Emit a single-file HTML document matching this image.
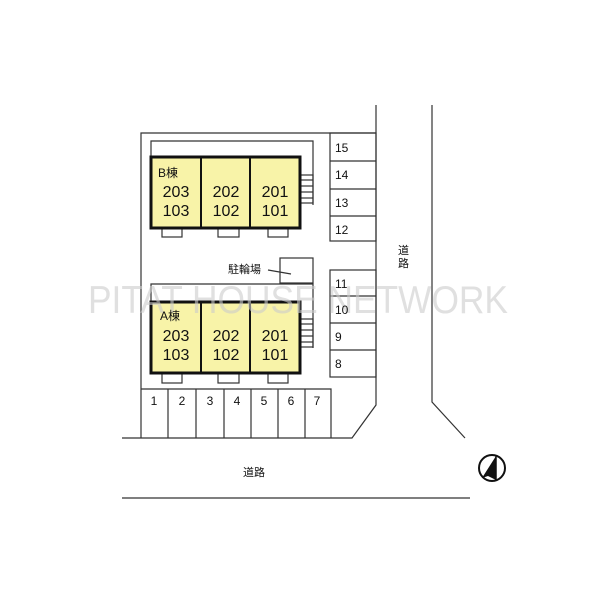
<!DOCTYPE html>
<html><head><meta charset="utf-8"><style>body{margin:0;background:#fff}svg{display:block}</style></head><body>
<svg width="600" height="600" viewBox="0 0 600 600" xmlns="http://www.w3.org/2000/svg" font-family="Liberation Sans, Noto Sans CJK JP, sans-serif">
<rect width="600" height="600" fill="#fff"/>
<g fill="none" stroke="#333" stroke-width="1.2">
<polyline points="141,438 141,133 376,133"/>
<polyline points="376,105 376,405 352,438 122,438"/>
<polyline points="432,105 432,402 465,438"/>
<line x1="122" y1="498" x2="470" y2="498"/>
<polyline points="151,156 151,141 313,141 313,205"/>
<polyline points="151,301 151,284 313,284 313,348"/>
<rect x="330" y="133" width="46" height="108"/>
<line x1="330" y1="161" x2="376" y2="161"/><line x1="330" y1="189" x2="376" y2="189"/><line x1="330" y1="216" x2="376" y2="216"/>
<rect x="330" y="270" width="46" height="107"/>
<line x1="330" y1="296" x2="376" y2="296"/><line x1="330" y1="323" x2="376" y2="323"/><line x1="330" y1="350" x2="376" y2="350"/>
<polyline points="141,389 331,389 331,438"/>
<line x1="168" y1="389" x2="168" y2="438"/><line x1="196" y1="389" x2="196" y2="438"/><line x1="224" y1="389" x2="224" y2="438"/><line x1="251" y1="389" x2="251" y2="438"/><line x1="278" y1="389" x2="278" y2="438"/><line x1="305" y1="389" x2="305" y2="438"/>
<rect x="280" y="258" width="33" height="25"/>
<line x1="268" y1="270" x2="291" y2="274"/>
<rect x="162" y="228" width="20" height="9"/><rect x="218" y="228" width="21" height="9"/><rect x="268" y="228" width="20" height="9"/>
<rect x="162" y="373" width="20" height="10"/><rect x="218" y="373" width="21" height="10"/><rect x="268" y="373" width="20" height="10"/>
<rect x="300" y="175" width="13" height="28"/>
<line x1="300" y1="180" x2="313" y2="180"/><line x1="300" y1="186" x2="313" y2="186"/><line x1="300" y1="192" x2="313" y2="192"/><line x1="300" y1="198" x2="313" y2="198"/>
<rect x="300" y="319" width="13" height="28"/>
<line x1="300" y1="324" x2="313" y2="324"/><line x1="300" y1="330" x2="313" y2="330"/><line x1="300" y1="336" x2="313" y2="336"/><line x1="300" y1="342" x2="313" y2="342"/>
</g>
<g fill="#f8f3a8" stroke="#111" stroke-width="3">
<rect x="151" y="157" width="149" height="71"/>
<rect x="151" y="302" width="149" height="71"/>
</g>
<g stroke="#111" stroke-width="2">
<line x1="201" y1="157" x2="201" y2="228"/><line x1="250" y1="157" x2="250" y2="228"/>
<line x1="201" y1="302" x2="201" y2="373"/><line x1="250" y1="302" x2="250" y2="373"/>
</g>
<text x="88" y="313" font-size="39" fill="#ccc" fill-opacity="0.6" textLength="420" lengthAdjust="spacingAndGlyphs">PITAT HOUSE NETWORK</text>
<g font-size="16" fill="#111" text-anchor="middle">
<text x="176" y="197">203</text><text x="176" y="216">103</text>
<text x="226" y="197">202</text><text x="226" y="216">102</text>
<text x="275" y="197">201</text><text x="275" y="216">101</text>
<text x="176" y="341">203</text><text x="176" y="360">103</text>
<text x="226" y="341">202</text><text x="226" y="360">102</text>
<text x="275" y="341">201</text><text x="275" y="360">101</text>
</g>
<g font-size="12" fill="#111">
<text x="158" y="177">B棟</text><text x="160" y="320">A棟</text>
<text x="335" y="152">15</text><text x="335" y="179">14</text><text x="335" y="207">13</text><text x="335" y="234">12</text>
<text x="335" y="288">11</text><text x="335" y="314">10</text><text x="335" y="341">9</text><text x="335" y="368">8</text>
<g text-anchor="middle">
<text x="154" y="405">1</text><text x="182" y="405">2</text><text x="210" y="405">3</text><text x="237" y="405">4</text><text x="264" y="405">5</text><text x="291" y="405">6</text><text x="317" y="405">7</text>
</g>
<text x="228" y="273" font-size="11">駐輪場</text>
<text x="243" y="476" font-size="11">道路</text>
<text x="398" y="254" font-size="11">道</text><text x="398" y="267" font-size="11">路</text>
</g>
<circle cx="492" cy="468" r="13" fill="none" stroke="#111" stroke-width="2"/>
<polygon points="496,456 496,480 488,476 482,478" fill="#111"/>
<line x1="496" y1="456" x2="496" y2="480" stroke="#111" stroke-width="1.5"/>
</svg>
</body></html>
